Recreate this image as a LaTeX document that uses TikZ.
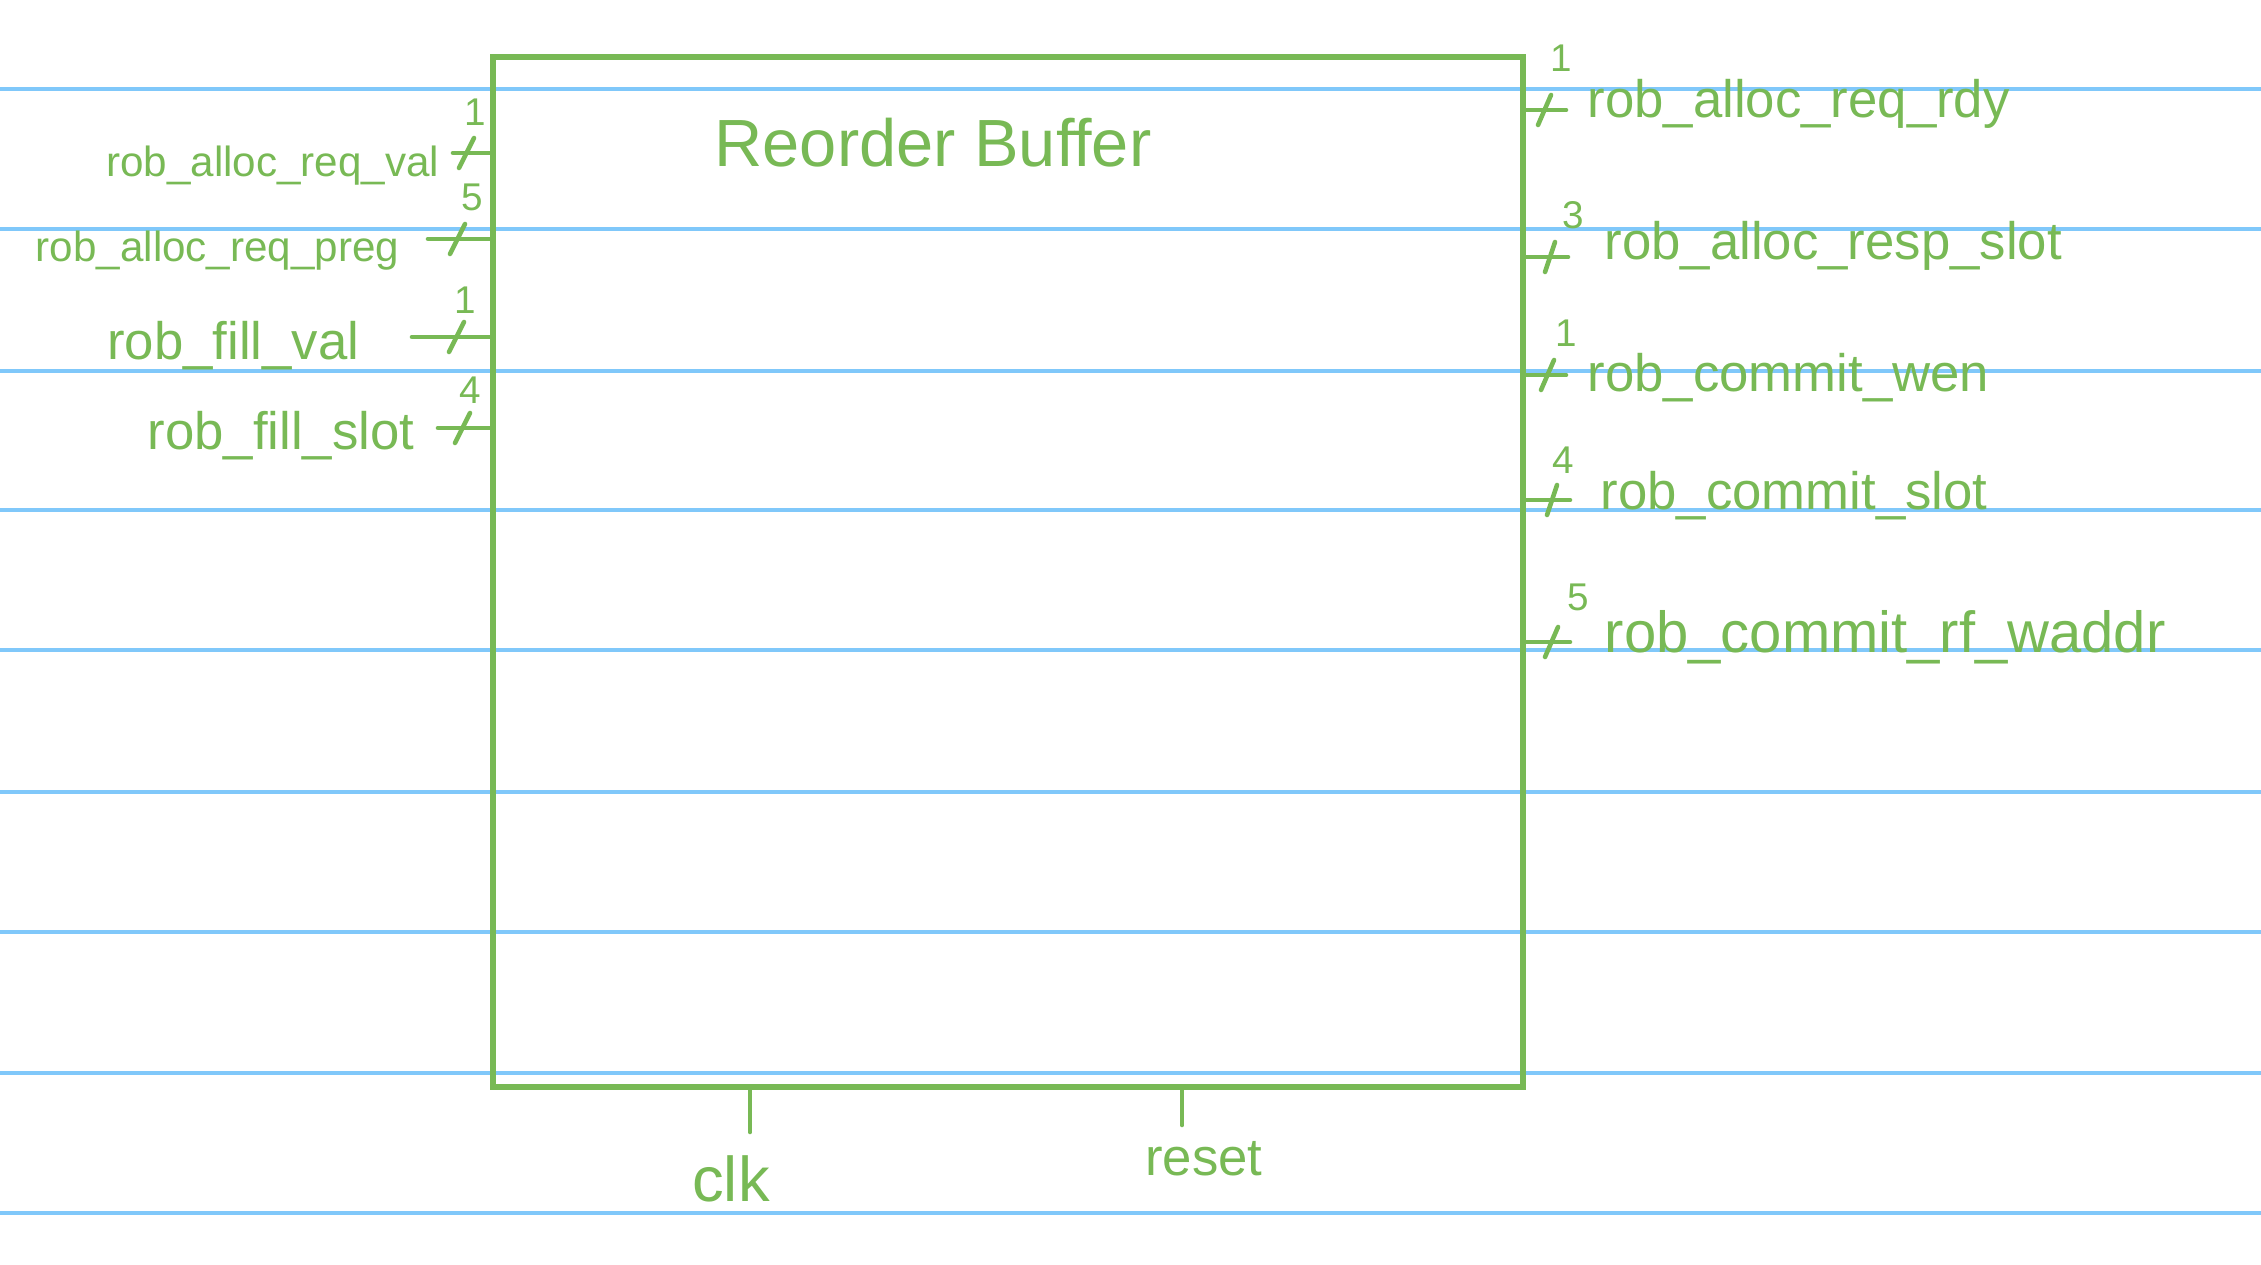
\documentclass[tikz,border=0pt]{standalone}
\usepackage{fontspec}
\setmainfont{Liberation Sans}
\usetikzlibrary{calc}
\definecolor{hand}{HTML}{78B955}
\definecolor{paper}{HTML}{80C8FA}
\begin{document}
\begin{tikzpicture}[x=1cm,y=1cm,every node/.style={text=hand,font=\fontsize{15}{17}\selectfont,inner sep=0pt},wire/.style={hand,line width=1.3pt,line cap=round},bits/.style={font=\fontsize{11}{13}\selectfont},tight/.style={font=\fontsize{12}{14}\selectfont},rule/.style={paper,line width=.9pt}]
\path[use as bounding box] (0,0) rectangle (22.61,12.64);

% ruled paper
\foreach \y in {11.75,10.35,8.93,7.54,6.14,4.72,3.32,1.91,0.51} \draw[rule] (0,\y)--(22.61,\y);

\node[draw=hand,line width=1.5pt,outer sep=0pt,anchor=south west,minimum width=10.30cm,minimum height=10.30cm] (rob) at (4.93,1.77) {};
\node[font=\fontsize{19}{21}\selectfont] (title) at (9.33,11.21) {Reorder Buffer};

% inputs
\coordinate (valend) at (4.53,11.11);
\draw[wire] (rob.west |- valend) -- (valend);
\draw[wire] ($(rob.west |- valend)+(-.34,-.15)$) -- ++(.15,.3);
\node[bits] (valbits) at (4.75,11.52) {1};
\node[tight,anchor=base east] (val) at (4.40,10.87) {rob\_alloc\_req\_val};

\coordinate (pregend) at (4.28,10.25);
\draw[wire] (rob.west |- pregend) -- (pregend);
\draw[wire] ($(rob.west |- pregend)+(-.43,-.15)$) -- ++(.15,.3);
\node[bits] (pregbits) at (4.72,10.67) {5};
\node[tight,anchor=base east] (preg) at (4.00,10.02) {rob\_alloc\_req\_preg};

\coordinate (fvalend) at (4.12,9.27);
\draw[wire] (rob.west |- fvalend) -- (fvalend);
\draw[wire] ($(rob.west |- fvalend)+(-.44,-.15)$) -- ++(.15,.3);
\node[bits] (fvalbits) at (4.65,9.64) {1};
\node[anchor=base east] (fval) at (3.60,9.04) {rob\_fill\_val};

\coordinate (fslotend) at (4.38,8.36);
\draw[wire] (rob.west |- fslotend) -- (fslotend);
\draw[wire] ($(rob.west |- fslotend)+(-.38,-.15)$) -- ++(.15,.3);
\node[bits] (fslotbits) at (4.70,8.74) {4};
\node[anchor=base east] (fslot) at (4.15,8.14) {rob\_fill\_slot};

% outputs
\coordinate (rdyend) at (15.66,11.54);
\draw[wire] (rob.east |- rdyend) -- (rdyend);
\draw[wire] ($(rob.east |- rdyend)+(.15,-.15)$) -- ++(.13,.3);
\node[bits] (rdybits) at (15.61,12.06) {1};
\node[anchor=base west] (rdy) at (15.87,11.46) {rob\_alloc\_req\_rdy};

\coordinate (rslotend) at (15.68,10.07);
\draw[wire] (rob.east |- rslotend) -- (rslotend);
\draw[wire] ($(rob.east |- rslotend)+(.22,-.15)$) -- ++(.1,.3);
\node[bits] (rslotbits) at (15.73,10.49) {3};
\node[anchor=base west] (rslot) at (16.04,10.04) {rob\_alloc\_resp\_slot};

\coordinate (wenend) at (15.66,8.89);
\draw[wire] (rob.east |- wenend) -- (wenend);
\draw[wire] ($(rob.east |- wenend)+(.18,-.15)$) -- ++(.13,.3);
\node[bits] (wenbits) at (15.66,9.31) {1};
\node[anchor=base west] (wen) at (15.87,8.72) {rob\_commit\_wen};

\coordinate (cslotend) at (15.70,7.64);
\draw[wire] (rob.east |- cslotend) -- (cslotend);
\draw[wire] ($(rob.east |- cslotend)+(.24,-.15)$) -- ++(.1,.3);
\node[bits] (cslotbits) at (15.63,8.04) {4};
\node[anchor=base west] (cslot) at (16.00,7.54) {rob\_commit\_slot};

\coordinate (waddrend) at (15.70,6.22);
\draw[wire] (rob.east |- waddrend) -- (waddrend);
\draw[wire] ($(rob.east |- waddrend)+(.22,-.15)$) -- ++(.13,.3);
\node[bits] (waddrbits) at (15.78,6.67) {5};
\node[anchor=base west,font=\fontsize{16.5}{18}\selectfont] (waddr) at (16.04,6.11) {rob\_commit\_rf\_waddr};

% clock and reset
\coordinate (clkend) at (7.50,1.32);
\draw[wire] (clkend |- rob.south) -- (clkend);
\node[anchor=base,font=\fontsize{18}{20}\selectfont] (clk) at (7.31,0.63) {clk};

\coordinate (resetend) at (11.82,1.39);
\draw[wire] (resetend |- rob.south) -- (resetend);
\node[anchor=base] (reset) at (12.04,0.89) {reset};

\end{tikzpicture}
\end{document}
